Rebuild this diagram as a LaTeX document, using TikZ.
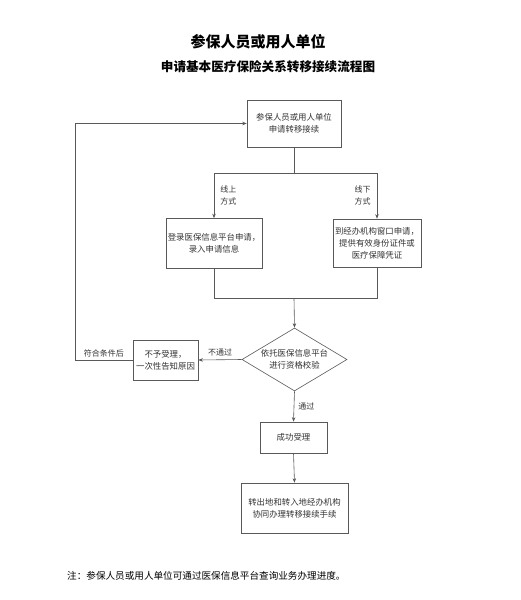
\documentclass[tikz,border=0pt]{standalone}
\usepackage{fontspec}
\setmainfont{Noto Sans CJK SC}
\usetikzlibrary{arrows.meta, shapes.geometric}

\tikzset{
    flowbox/.style={draw=black!65, line width=0.6pt, fill=white, align=center,
        text=black!80, inner sep=2pt, font=\fontsize{8.4}{12}\selectfont},
    flowlabel/.style={text=black!80, align=center, inner sep=1pt,
        font=\fontsize{8}{12}\selectfont},
    flowline/.style={draw=black!65, line width=0.6pt}
}

\begin{document}
\begin{tikzpicture}[x=1pt, y=-1pt, >={Stealth[length=4.5pt, width=3.5pt]}]
    \useasboundingbox (0,0) rectangle (520,600);

    % title
    \node (title1) at (258,42) {\fontsize{15}{18}\selectfont\bfseries 参保人员或用人单位};
    \node (title2) at (268,67) {\fontsize{12.6}{16}\selectfont\bfseries 申请基本医疗保险关系转移接续流程图};

    % boxes
    \node[flowbox, minimum width=94pt, minimum height=47pt] (apply) at (294,123.5) {参保人员或用人单位\\申请转移接续};
    \node[flowbox, minimum width=96pt, minimum height=50pt] (online) at (214,243.5) {登录医保信息平台申请，\\录入申请信息};
    \node[flowbox, minimum width=86pt, minimum height=48pt] (offline) at (377,243) {到经办机构窗口申请，\\提供有效身份证件或\\医疗保障凭证};
    \node[flowbox, shape=diamond, aspect=1.67, inner sep=0pt, minimum width=105pt, minimum height=63pt] (check) at (294.5,359.5) {依托医保信息平台\\进行资格校验};
    \node[flowbox, minimum width=65pt, minimum height=40pt] (reject) at (165.5,360) {不予受理，\\一次性告知原因};
    \node[flowbox, minimum width=67pt, minimum height=31pt] (accept) at (293.5,437.5) {成功受理};
    \node[flowbox, minimum width=107pt, minimum height=50pt] (finish) at (294.5,508) {转出地和转入地经办机构\\协同办理转移接续手续};

    \coordinate (split) at (294,173);
    \coordinate (merge) at (294,298);
    \coordinate (loop) at (75,360);

    % connectors
    \draw[flowline] (apply.south) -- (split);
    \draw[flowline, ->] (split) -| (online.north) node[flowlabel, pos=0.75, right=5pt] {线上\\方式};
    \draw[flowline, ->] (split) -| (offline.north) node[flowlabel, pos=0.75, left=5pt] {线下\\方式};
    \draw[flowline] (online.south) |- (merge);
    \draw[flowline] (offline.south) |- (merge);
    \draw[flowline, ->] (merge) -- (check.north);
    \draw[flowline, ->] (check.west) -- (reject.east) node[flowlabel, midway, above=2pt] {不通过};
    \draw[flowline, ->] (reject.west) -- (loop) node[flowlabel, midway, above=2pt] {符合条件后} |- (apply.west);
    \draw[flowline, ->] (check.south) -- (accept.north) node[flowlabel, midway, right=3pt] {通过};
    \draw[flowline, ->] (accept.south) -- (finish.north);

    % note
    \node[anchor=west, inner sep=0pt] (note) at (67,576) {\fontsize{9.6}{12}\selectfont 注：参保人员或用人单位可通过医保信息平台查询业务办理进度。};
\end{tikzpicture}
\end{document}
